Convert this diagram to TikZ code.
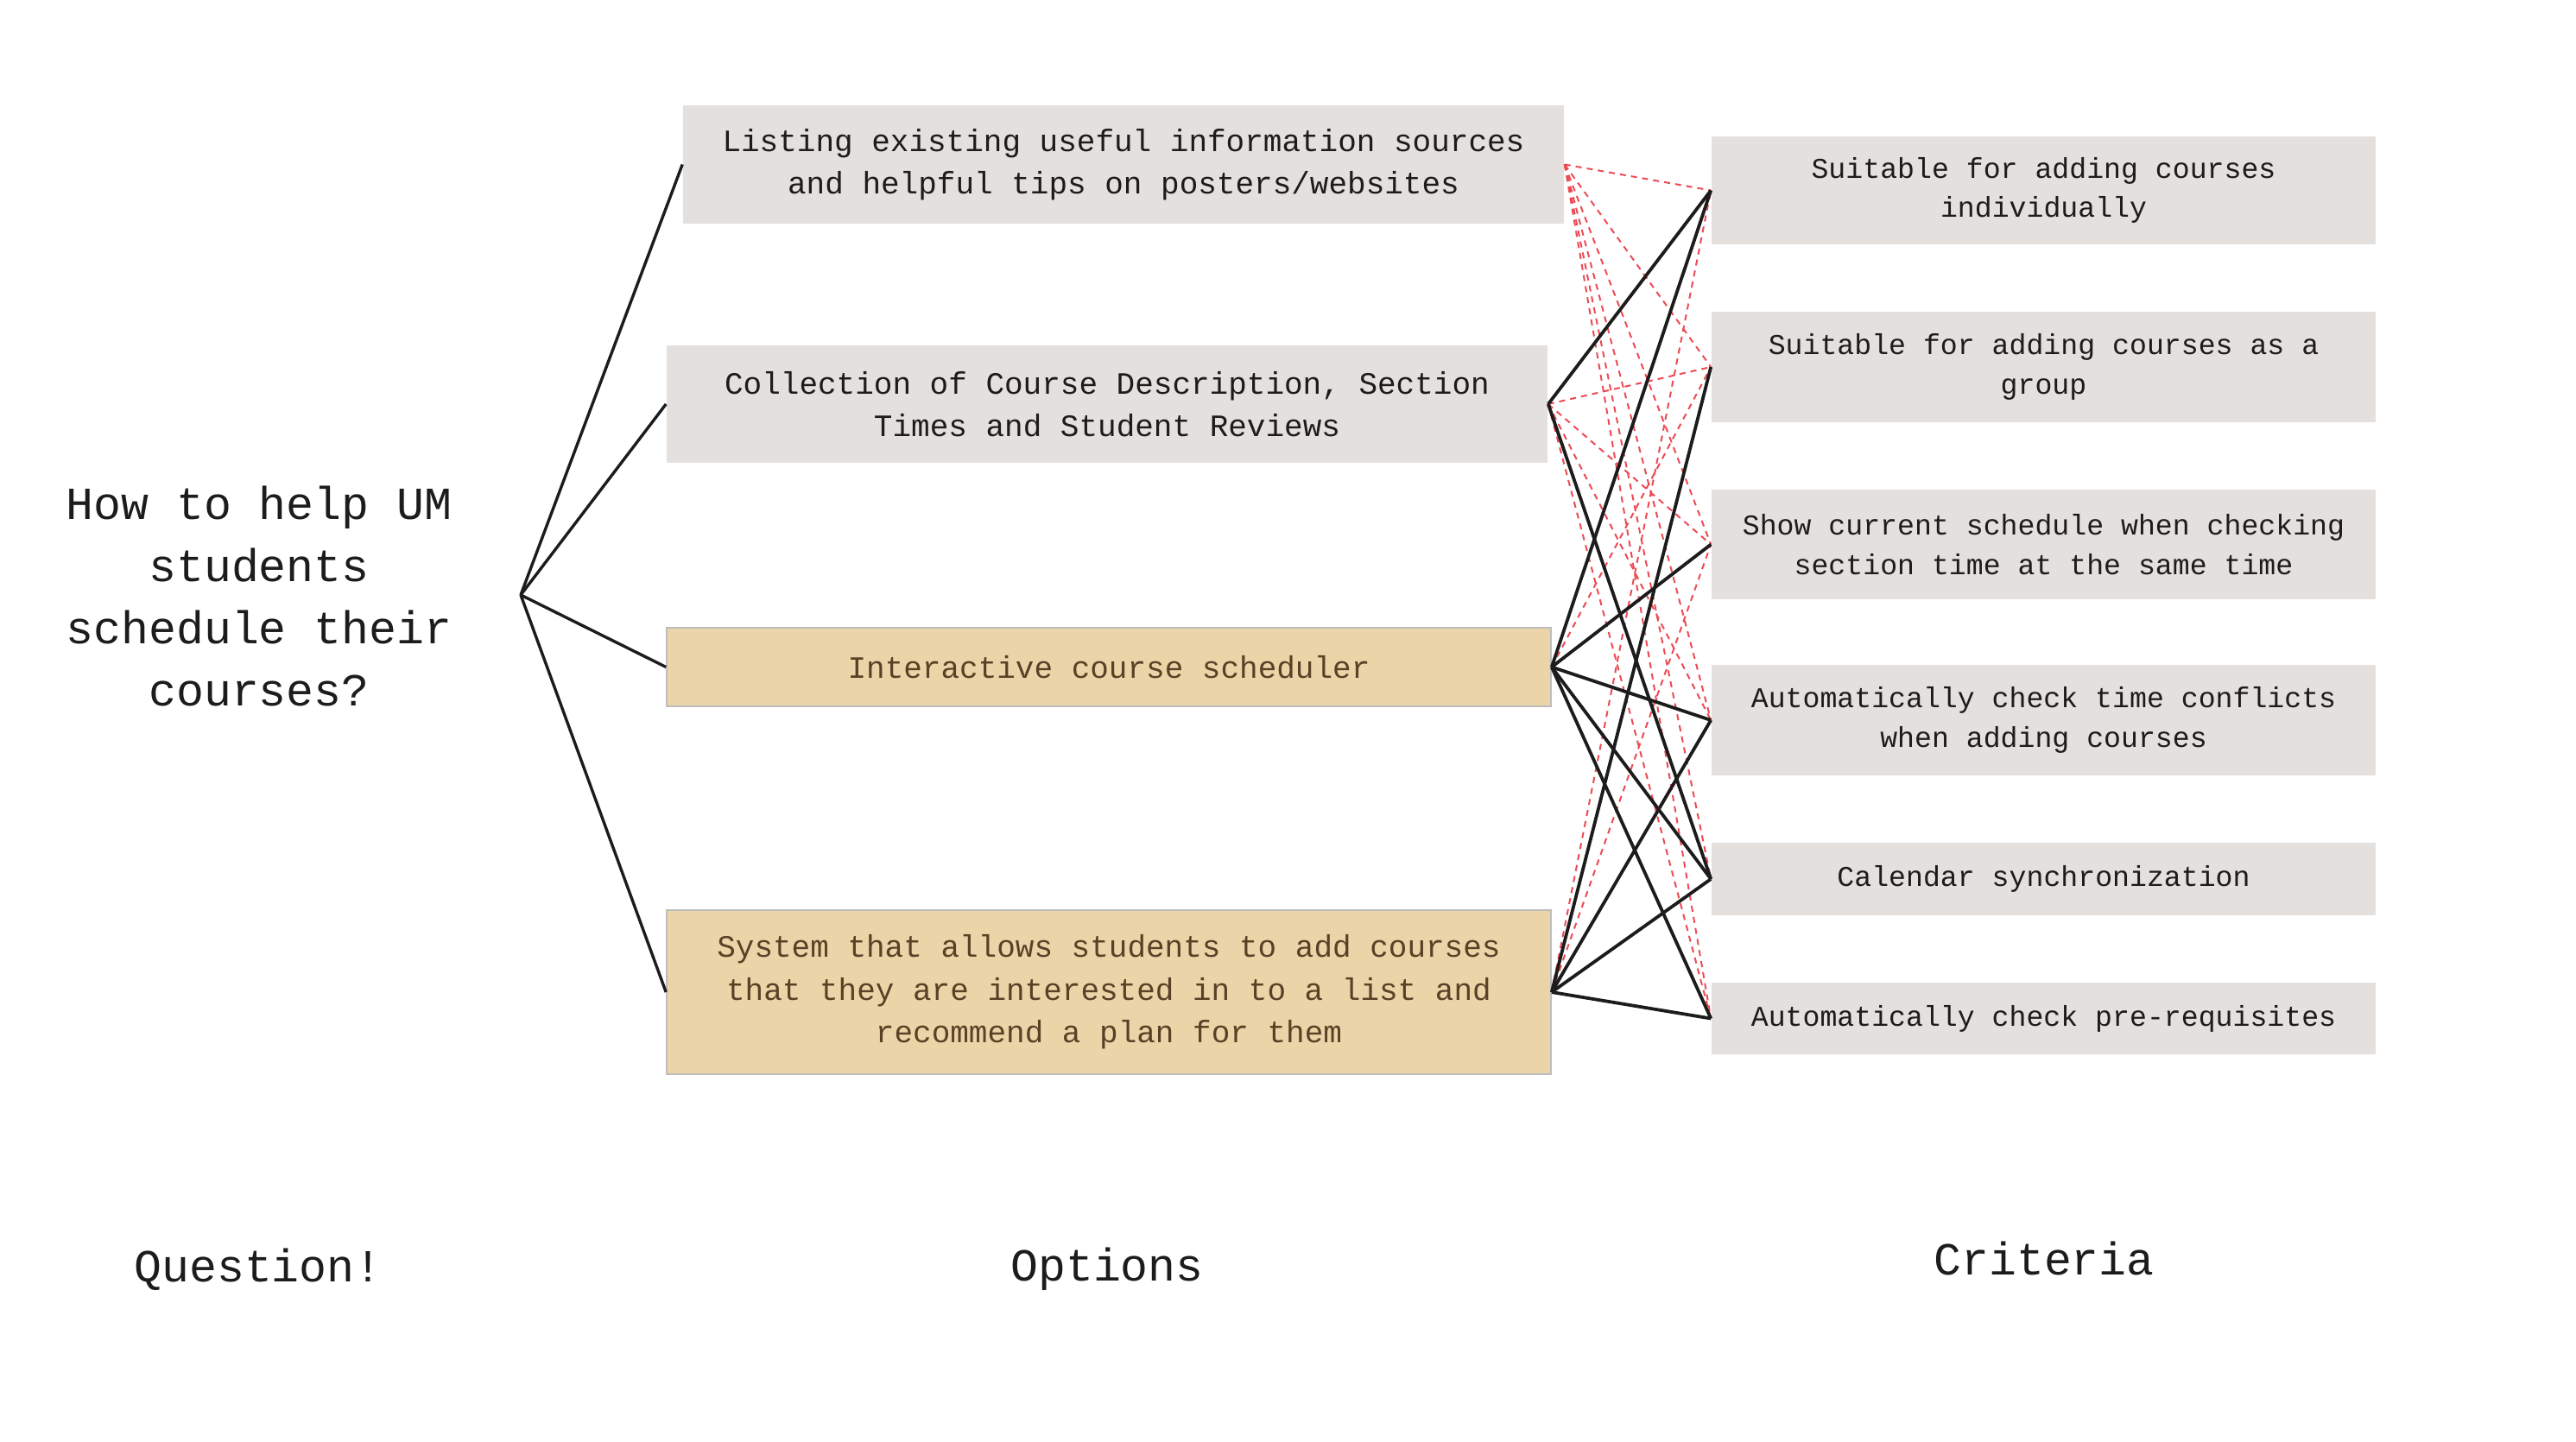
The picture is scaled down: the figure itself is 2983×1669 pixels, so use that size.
\documentclass[tikz,border=0pt]{standalone}
\usepackage{fontspec}
\setmainfont{Liberation Mono}
\usepackage{tikz}
\usetikzlibrary{positioning}

\definecolor{boxgray}{HTML}{E4E0DD}
\definecolor{boxtan}{HTML}{EBD4A8}
\definecolor{tanedge}{HTML}{BDBDBD}
\definecolor{tantext}{HTML}{5A4126}
\definecolor{inkblack}{HTML}{1C1C1C}
\definecolor{noline}{HTML}{EC4B55}

\tikzset{
	optbox/.style = {fill=boxgray, text=inkblack, align=center, inner sep=0pt,
		minimum width=255pt, font=\fontsize{9pt}{12.4pt}\selectfont},
	tanbox/.style = {optbox, fill=boxtan, draw=tanedge, line width=0.4pt, text=tantext},
	critbox/.style = {fill=boxgray, text=inkblack, align=center, inner sep=0pt,
		minimum width=192.25pt, font=\fontsize{8.3pt}{11.4pt}\selectfont},
	heading/.style = {text=inkblack, align=center, font=\fontsize{13.3pt}{18pt}\selectfont},
	branch/.style = {draw=inkblack, line width=0.85pt},
	yes/.style = {draw=inkblack, line width=0.95pt},
	no/.style = {draw=noline, line width=0.5pt, dash pattern=on 1.75pt off 1.5pt}
}

\begin{document}
\begin{tikzpicture}[x=0.25pt, y=-0.25pt]
	\useasboundingbox (0,0) rectangle (2983,1669);

	% question
	\node[heading] (quest) at (300,690) {How to help UM\\students\\schedule their\\courses?};
	\coordinate (qpt) at (603,689);

	% options
	\node[optbox, minimum height=34.25pt] (o1) at (1301,190.5)
		{\raisebox{-1pt}{\shortstack{Listing existing useful information sources\\[1pt]and helpful tips on posters/websites}}};
	\node[optbox, minimum height=34pt] (o2) at (1282,468)
		{Collection of Course Description, Section\\Times and Student Reviews};
	\node[tanbox, minimum width=256pt, minimum height=22.75pt] (o3) at (1284,772.5)
		{Interactive course scheduler};
	\node[tanbox, minimum width=256pt, minimum height=47.5pt] (o4) at (1284,1149)
		{System that allows students to add courses\\that they are interested in to a list and\\recommend a plan for them};

	% criteria
	\node[critbox, minimum height=31.25pt] (c1) at (2366.5,220.5)
		{Suitable for adding courses\\individually};
	\node[critbox, minimum height=32pt] (c2) at (2366.5,425)
		{Suitable for adding courses as a\\group};
	\node[critbox, minimum height=31.75pt] (c3) at (2366.5,630.5)
		{Show current schedule when checking\\section time at the same time};
	\node[critbox, minimum height=32pt] (c4) at (2366.5,834)
		{Automatically check time conflicts\\when adding courses};
	\node[critbox, minimum height=21pt] (c5) at (2366.5,1018)
		{Calendar synchronization};
	\node[critbox, minimum height=20.75pt] (c6) at (2366.5,1179.5)
		{Automatically check pre-requisites};

	% column labels
	\node[heading] (lblq) at (299,1470) {Question!};
	\node[heading] (lblo) at (1282,1470) {Options};
	\node[heading] (lblc) at (2367,1457) {Criteria};

	% question to options
	\foreach \o in {1,2,3,4}
		\draw[branch] (qpt) -- (o\o.west);

	% options to criteria
	\foreach \o/\c in {1/1,1/2,1/3,1/4,1/5,1/6,2/2,2/3,2/4,2/6,3/2,4/1,4/3}
		\draw[no] (o\o.east) -- (c\c.west);
	\foreach \o/\c in {2/1,2/5,3/1,3/3,3/4,3/5,3/6,4/2,4/4,4/5,4/6}
		\draw[yes] (o\o.east) -- (c\c.west);
\end{tikzpicture}
\end{document}
